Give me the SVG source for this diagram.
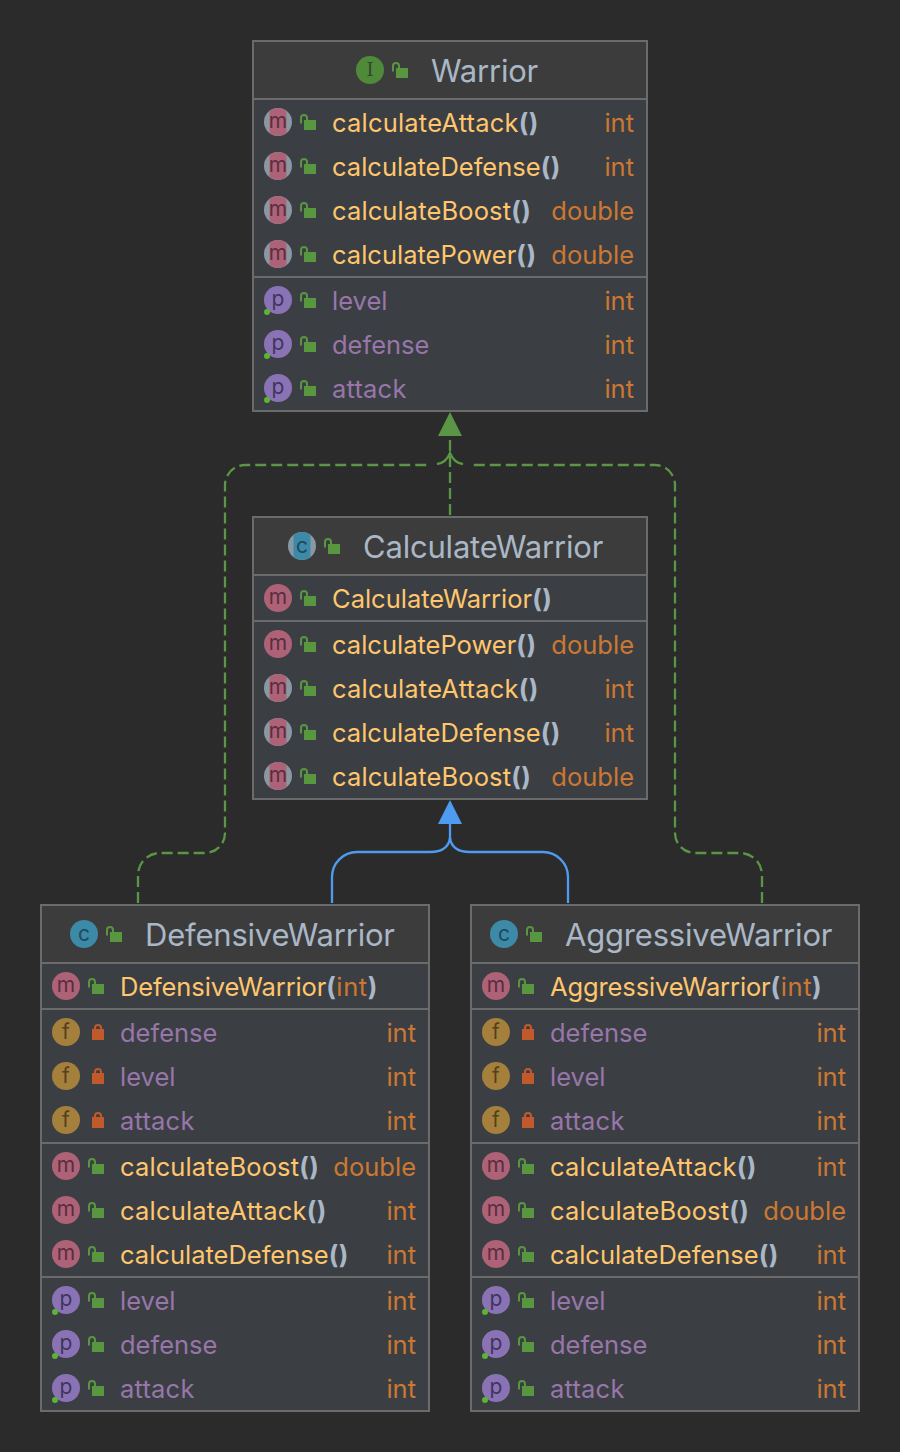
<svg xmlns="http://www.w3.org/2000/svg" width="900" height="1452" viewBox="0 0 900 1452">
<style>
text{font-family:Inter,"Noto Sans","Liberation Sans",sans-serif;font-size:25.5px}
.ti{font-size:31px;letter-spacing:-.2px;fill:#a9b7c6}
.mn{fill:#ffc66d}
.br{fill:#a9b7c6;font-weight:700;letter-spacing:.5px}
.pm{fill:#cc7832;letter-spacing:.6px}
.pr{fill:#9876aa}
.ty{fill:#cc7832;text-anchor:end}
.at{letter-spacing:.2px}
.bo{letter-spacing:.12px}
.ct{letter-spacing:-.12px}
.il{font-size:21px;text-anchor:middle;fill:#5a2e3e}
.ilp{fill:#3f3560}
.ilf{fill:#54401d}
.ilc{fill:#1f4a5e}
.ili{font-family:"DejaVu Serif",serif;fill:#2f4a26;font-size:18px}
.box{fill:#3b3f43;stroke:#6b6b6b;stroke-width:2}
.hd{fill:#3c3c3c}
.sep{stroke:#6b6b6b;stroke-width:2}
.gl{fill:none;stroke:#5a9645;stroke-width:2.3;stroke-dasharray:11 5}
.gs{fill:none;stroke:#5a9645;stroke-width:2.3}
.bl{fill:none;stroke:#4e9bf0;stroke-width:2.3}
</style>
<defs>
<g id="m"><circle r="14" fill="#ae6277"/></g>
<g id="am"><circle r="14" fill="#8a98a4"/><path d="M-8.500-11.100A14 14 0 0 1 8.500-11.100V11.100A14 14 0 0 1-8.500 11.100Z" fill="#ae6277"/></g>
<g id="p"><circle r="14" fill="#8a73b5"/><circle cx="-11" cy="12" r="3" fill="#59b532"/></g>
<g id="f"><circle r="14" fill="#a5803c"/></g>
<g id="c"><circle r="14" fill="#3d89a8"/></g>
<g id="ac"><circle r="14" fill="#8a98a4"/><path d="M-8.500-11.100A14 14 0 0 1 8.500-11.100V11.100A14 14 0 0 1-8.500 11.100Z" fill="#3d89a8"/></g>
<g id="i"><circle r="14" fill="#4f8a3a"/></g>
<g id="lo"><path d="M1 1.500V-4A3 3 0 0 1 7-4V-2" fill="none" stroke="#58963f" stroke-width="2"/><rect x="4" y="-2" width="12" height="10" fill="#58963f"/></g>
<g id="lc"><path d="M7-2V-4A3 3 0 0 1 13-4V-2" fill="none" stroke="#c05a2a" stroke-width="2"/><rect x="4" y="-3" width="12" height="11" fill="#c05a2a"/></g>
</defs>
<rect width="900" height="1452" fill="#2b2b2b"/>
<g id="connectors">
<path class="gl" d="M450 515V436"/>
<path class="gl" d="M138 903V875A22 22 0 0 1 160 853H205A20 20 0 0 0 225 833V485A20 20 0 0 1 245 465H430"/>
<path class="gl" d="M762 903V875A22 22 0 0 0 740 853H695A20 20 0 0 1 675 833V485A20 20 0 0 0 655 465H470"/>
<path class="gs" d="M437 464Q446 463 450 453Q454 463 463 464"/>
<polygon points="450,412 462,436 438,436" fill="#5a9645"/>
<path class="bl" d="M450 824V840"/>
<path class="bl" d="M332 903V877A25 25 0 0 1 357 852H430Q448 852 450 838"/>
<path class="bl" d="M568 903V877A25 25 0 0 0 543 852H470Q452 852 450 838"/>
<polygon points="450,800 462,824 438,824" fill="#4e9bf0"/>
</g>
<g id="Warrior">
<rect class="box" x="253" y="41" width="394" height="370"/>
<rect class="hd" x="254" y="42" width="392" height="57"/>
<path class="sep" d="M254 99H646M254 277H646"/>
<use href="#i" x="370" y="70"/><text class="il ili" x="370" y="76">I</text>
<use href="#lo" x="392" y="70"/><text class="ti" x="431" y="82">Warrior</text>
<use href="#am" x="278" y="122"/><text class="il" x="278" y="128">m</text><use href="#lo" x="300" y="122"/><text class="mn at" x="332" y="132">calculateAttack<tspan class="br">()</tspan></text><text class="ty" x="634" y="132">int</text>
<use href="#am" x="278" y="166"/><text class="il" x="278" y="172">m</text><use href="#lo" x="300" y="166"/><text class="mn" x="332" y="176">calculateDefense<tspan class="br">()</tspan></text><text class="ty" x="634" y="176">int</text>
<use href="#am" x="278" y="210"/><text class="il" x="278" y="216">m</text><use href="#lo" x="300" y="210"/><text class="mn bo" x="332" y="220">calculateBoost<tspan class="br">()</tspan></text><text class="ty" x="634" y="220">double</text>
<use href="#am" x="278" y="254"/><text class="il" x="278" y="260">m</text><use href="#lo" x="300" y="254"/><text class="mn" x="332" y="264">calculatePower<tspan class="br">()</tspan></text><text class="ty" x="634" y="264">double</text>
<use href="#p" x="278" y="300"/><text class="il ilp" x="278" y="306">p</text><use href="#lo" x="300" y="300"/><text class="pr" x="332" y="310">level</text><text class="ty" x="634" y="310">int</text>
<use href="#p" x="278" y="344"/><text class="il ilp" x="278" y="350">p</text><use href="#lo" x="300" y="344"/><text class="pr" x="332" y="354">defense</text><text class="ty" x="634" y="354">int</text>
<use href="#p" x="278" y="388"/><text class="il ilp" x="278" y="394">p</text><use href="#lo" x="300" y="388"/><text class="pr at" x="332" y="398">attack</text><text class="ty" x="634" y="398">int</text>
</g>
<g id="CalculateWarrior">
<rect class="box" x="253" y="517" width="394" height="282"/>
<rect class="hd" x="254" y="518" width="392" height="57"/>
<path class="sep" d="M254 575H646M254 621H646"/>
<use href="#ac" x="302" y="546"/><text class="il ilc" x="302" y="553">c</text>
<use href="#lo" x="324" y="546"/><text class="ti" x="363" y="558">CalculateWarrior</text>
<use href="#m" x="278" y="598"/><text class="il" x="278" y="604">m</text><use href="#lo" x="300" y="598"/><text class="mn" x="332" y="608">CalculateWarrior<tspan class="br">()</tspan></text>
<use href="#m" x="278" y="644"/><text class="il" x="278" y="650">m</text><use href="#lo" x="300" y="644"/><text class="mn" x="332" y="654">calculatePower<tspan class="br">()</tspan></text><text class="ty" x="634" y="654">double</text>
<use href="#am" x="278" y="688"/><text class="il" x="278" y="694">m</text><use href="#lo" x="300" y="688"/><text class="mn at" x="332" y="698">calculateAttack<tspan class="br">()</tspan></text><text class="ty" x="634" y="698">int</text>
<use href="#am" x="278" y="732"/><text class="il" x="278" y="738">m</text><use href="#lo" x="300" y="732"/><text class="mn" x="332" y="742">calculateDefense<tspan class="br">()</tspan></text><text class="ty" x="634" y="742">int</text>
<use href="#am" x="278" y="776"/><text class="il" x="278" y="782">m</text><use href="#lo" x="300" y="776"/><text class="mn bo" x="332" y="786">calculateBoost<tspan class="br">()</tspan></text><text class="ty" x="634" y="786">double</text>
</g>
<g id="DefensiveWarrior">
<rect class="box" x="41" y="905" width="388" height="506"/>
<rect class="hd" x="42" y="906" width="386" height="57"/>
<path class="sep" d="M42 963H428M42 1009H428M42 1143H428M42 1277H428"/>
<use href="#c" x="84" y="934"/><text class="il ilc" x="84" y="941">c</text>
<use href="#lo" x="106" y="934"/><text class="ti" x="145" y="946">DefensiveWarrior</text>
<use href="#m" x="66" y="986"/><text class="il" x="66" y="992">m</text><use href="#lo" x="88" y="986"/><text class="mn ct" x="120" y="996">DefensiveWarrior<tspan class="br">(</tspan><tspan class="pm">int</tspan><tspan class="br">)</tspan></text>
<use href="#f" x="66" y="1032"/><text class="il ilf" x="66" y="1039">f</text><use href="#lc" x="88" y="1032"/><text class="pr" x="120" y="1042">defense</text><text class="ty" x="416" y="1042">int</text>
<use href="#f" x="66" y="1076"/><text class="il ilf" x="66" y="1083">f</text><use href="#lc" x="88" y="1076"/><text class="pr" x="120" y="1086">level</text><text class="ty" x="416" y="1086">int</text>
<use href="#f" x="66" y="1120"/><text class="il ilf" x="66" y="1127">f</text><use href="#lc" x="88" y="1120"/><text class="pr at" x="120" y="1130">attack</text><text class="ty" x="416" y="1130">int</text>
<use href="#m" x="66" y="1166"/><text class="il" x="66" y="1172">m</text><use href="#lo" x="88" y="1166"/><text class="mn bo" x="120" y="1176">calculateBoost<tspan class="br">()</tspan></text><text class="ty" x="416" y="1176">double</text>
<use href="#m" x="66" y="1210"/><text class="il" x="66" y="1216">m</text><use href="#lo" x="88" y="1210"/><text class="mn at" x="120" y="1220">calculateAttack<tspan class="br">()</tspan></text><text class="ty" x="416" y="1220">int</text>
<use href="#m" x="66" y="1254"/><text class="il" x="66" y="1260">m</text><use href="#lo" x="88" y="1254"/><text class="mn" x="120" y="1264">calculateDefense<tspan class="br">()</tspan></text><text class="ty" x="416" y="1264">int</text>
<use href="#p" x="66" y="1300"/><text class="il ilp" x="66" y="1306">p</text><use href="#lo" x="88" y="1300"/><text class="pr" x="120" y="1310">level</text><text class="ty" x="416" y="1310">int</text>
<use href="#p" x="66" y="1344"/><text class="il ilp" x="66" y="1350">p</text><use href="#lo" x="88" y="1344"/><text class="pr" x="120" y="1354">defense</text><text class="ty" x="416" y="1354">int</text>
<use href="#p" x="66" y="1388"/><text class="il ilp" x="66" y="1394">p</text><use href="#lo" x="88" y="1388"/><text class="pr at" x="120" y="1398">attack</text><text class="ty" x="416" y="1398">int</text>
</g>
<g id="AggressiveWarrior">
<rect class="box" x="471" y="905" width="388" height="506"/>
<rect class="hd" x="472" y="906" width="386" height="57"/>
<path class="sep" d="M472 963H858M472 1009H858M472 1143H858M472 1277H858"/>
<use href="#c" x="504" y="934"/><text class="il ilc" x="504" y="941">c</text>
<use href="#lo" x="526" y="934"/><text class="ti" x="565" y="946">AggressiveWarrior</text>
<use href="#m" x="496" y="986"/><text class="il" x="496" y="992">m</text><use href="#lo" x="518" y="986"/><text class="mn ct" x="550" y="996">AggressiveWarrior<tspan class="br">(</tspan><tspan class="pm">int</tspan><tspan class="br">)</tspan></text>
<use href="#f" x="496" y="1032"/><text class="il ilf" x="496" y="1039">f</text><use href="#lc" x="518" y="1032"/><text class="pr" x="550" y="1042">defense</text><text class="ty" x="846" y="1042">int</text>
<use href="#f" x="496" y="1076"/><text class="il ilf" x="496" y="1083">f</text><use href="#lc" x="518" y="1076"/><text class="pr" x="550" y="1086">level</text><text class="ty" x="846" y="1086">int</text>
<use href="#f" x="496" y="1120"/><text class="il ilf" x="496" y="1127">f</text><use href="#lc" x="518" y="1120"/><text class="pr at" x="550" y="1130">attack</text><text class="ty" x="846" y="1130">int</text>
<use href="#m" x="496" y="1166"/><text class="il" x="496" y="1172">m</text><use href="#lo" x="518" y="1166"/><text class="mn at" x="550" y="1176">calculateAttack<tspan class="br">()</tspan></text><text class="ty" x="846" y="1176">int</text>
<use href="#m" x="496" y="1210"/><text class="il" x="496" y="1216">m</text><use href="#lo" x="518" y="1210"/><text class="mn bo" x="550" y="1220">calculateBoost<tspan class="br">()</tspan></text><text class="ty" x="846" y="1220">double</text>
<use href="#m" x="496" y="1254"/><text class="il" x="496" y="1260">m</text><use href="#lo" x="518" y="1254"/><text class="mn" x="550" y="1264">calculateDefense<tspan class="br">()</tspan></text><text class="ty" x="846" y="1264">int</text>
<use href="#p" x="496" y="1300"/><text class="il ilp" x="496" y="1306">p</text><use href="#lo" x="518" y="1300"/><text class="pr" x="550" y="1310">level</text><text class="ty" x="846" y="1310">int</text>
<use href="#p" x="496" y="1344"/><text class="il ilp" x="496" y="1350">p</text><use href="#lo" x="518" y="1344"/><text class="pr" x="550" y="1354">defense</text><text class="ty" x="846" y="1354">int</text>
<use href="#p" x="496" y="1388"/><text class="il ilp" x="496" y="1394">p</text><use href="#lo" x="518" y="1388"/><text class="pr at" x="550" y="1398">attack</text><text class="ty" x="846" y="1398">int</text>
</g>
</svg>
